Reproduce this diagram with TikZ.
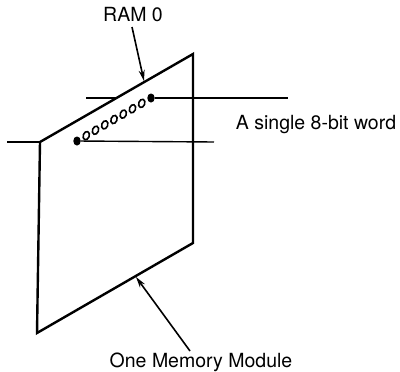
\documentclass[tikz,border=0pt]{standalone}
\usepackage{fontspec}
\setmainfont{TeX Gyre Heros}
\usepackage{tikz}
\usetikzlibrary{arrows.meta}
\usetikzlibrary{shapes.geometric}
\usetikzlibrary{positioning}

\begin{document}
\begin{tikzpicture}[x=1pt, y=-1pt,
  every node/.style={inner sep=0pt},
  label/.style={font=\fontsize{19.5}{22}\selectfont},
  module/.style={line width=2.4pt, line join=miter},
  wordline/.style={line width=1.4pt},
  pointer/.style={line width=1.6pt, -{Stealth[length=11pt, width=6pt]}},
  bit/.style={ellipse, minimum width=6pt, minimum height=8.5pt, rotate=-20, line width=1.6pt, draw=black, fill=white},
  endbit/.style={ellipse, minimum width=7.5pt, minimum height=9pt, fill=black}]
\useasboundingbox (0, 0) rectangle (400, 372);
% memory module
\coordinate (tl) at (40, 142);
\coordinate (tr) at (193, 54);
\coordinate (br) at (193, 243);
\coordinate (bl) at (37, 333);
\draw [module] (tl) -- (tr) -- (br) -- (bl) -- cycle;
% word lines
\coordinate (upl) at (86, 98);
\coordinate (upe) at (116.5, 98);
\coordinate (upr) at (288, 98);
\coordinate (lol) at (7, 142);
\coordinate (lor) at (214, 142);
% bits of one word
\node (d1) [endbit] at (77, 141) {};
\foreach \i in {2,...,8}
  \node (d\i) [bit] at ({77+(\i-1)*9.25}, {141-(\i-1)*5.375}) {};
\node (d9) [endbit] at (151, 98) {};
\draw [wordline] (upl) -- (upe);
\draw [wordline] (d9) -- (upr);
\draw [wordline] (lol) -- (tl);
\draw [wordline] (d1) -- (lor);
% labels
\node (ram) [label] at (133, 15) {RAM 0};
\node (word) [label] at (316, 125) {A single 8-bit word};
\node (mod) [label] at (201, 362) {One Memory Module};
\coordinate (ramfoot) at (132, 27);
\coordinate (ramtip) at (144, 81);
\coordinate (modfoot) at (190, 351);
\coordinate (modtip) at (136, 277);
\draw [pointer] (ramfoot) -- (ramtip);
\draw [pointer] (modfoot) -- (modtip);
\end{tikzpicture}
\end{document}
